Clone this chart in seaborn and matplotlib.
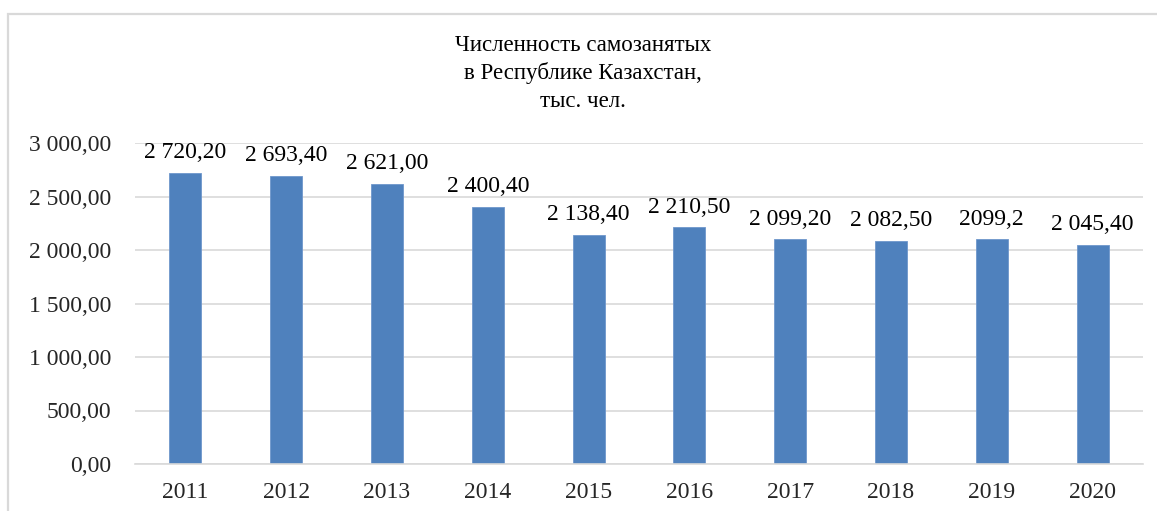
import matplotlib
matplotlib.use("Agg")
import matplotlib.pyplot as plt
import seaborn as sns
from matplotlib.patches import Rectangle

years = ["2011", "2012", "2013", "2014", "2015", "2016", "2017", "2018", "2019", "2020"]
values = [2720.2, 2693.4, 2621.0, 2400.4, 2138.4, 2210.5, 2099.2, 2082.5, 2099.2, 2045.4]
value_labels = ["2 720,20", "2 693,40", "2 621,00", "2 400,40", "2 138,40",
                "2 210,50", "2 099,20", "2 082,50", "2099,2", "2 045,40"]
y_ticks = [0, 500, 1000, 1500, 2000, 2500, 3000]
y_tick_labels = ["0,00", "500,00", "1 000,00", "1 500,00", "2 000,00", "2 500,00", "3 000,00"]
title = "Численность самозанятых\nв Республике Казахстан,\nтыс. чел."

sns.set_theme(style="white")
plt.rcParams["font.family"] = ["Liberation Serif", "DejaVu Serif"]

fig = plt.figure(figsize=(11.57, 5.11), dpi=100)
ax = fig.add_axes([135 / 1157, 1 - 464 / 511, 1008 / 1157, 321 / 511])

sns.barplot(x=years, y=values, color="#4F81BD", width=0.317, saturation=1, ax=ax,
            edgecolor="#6F97CC", linewidth=0.6)

ax.set_ylim(0, 3000)
ax.set_yticks(y_ticks)
ax.set_yticklabels(y_tick_labels, fontsize=17)
ax.tick_params(axis="y", length=0, pad=17)
ax.tick_params(axis="x", length=0, pad=13, labelsize=17)
ax.yaxis.grid(True, color="#D9D9D9", linewidth=1.2)
ax.set_axisbelow(True)
for s in ["top", "right", "left"]:
    ax.spines[s].set_visible(False)
ax.spines["bottom"].set_color("#D9D9D9")
ax.spines["bottom"].set_linewidth(1.2)
ax.set_xlabel("")
ax.set_ylabel("")

# подписи значений над столбцами
for i, (v, lab) in enumerate(zip(values, value_labels)):
    ax.annotate(lab, (i, v), xytext=(0, 7), textcoords="offset points",
                ha="center", va="bottom", fontsize=17, color="black")

fig.text(583 / 1157, 1 - 35 / 511, title, ha="center", va="top", fontsize=16.5,
         linespacing=1.38, color="black")

# рамка области диаграммы
fig.patches.append(Rectangle((7.5 / 1157, -0.2), 1.2, 1.2 - 14 / 511,
                             transform=fig.transFigure, fill=False,
                             edgecolor="#D9D9D9", linewidth=1.6))

fig.savefig("out.png", dpi=100)
